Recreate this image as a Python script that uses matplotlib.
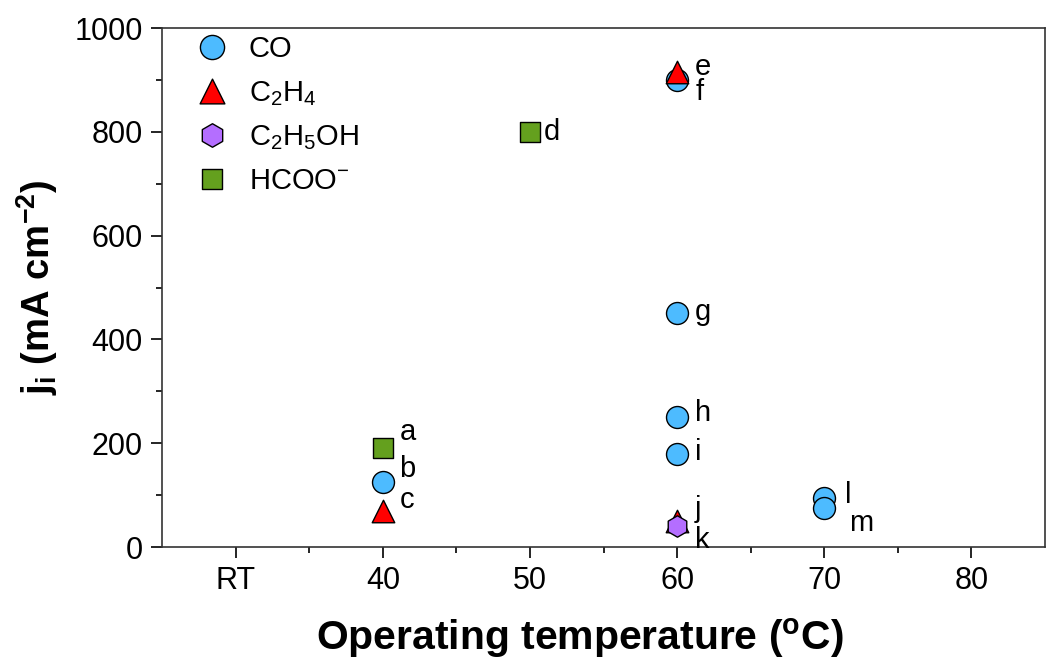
import matplotlib
matplotlib.use("Agg")
import matplotlib.pyplot as plt

plt.rcParams['font.family'] = ['Liberation Sans', 'DejaVu Sans']
plt.rcParams['mathtext.fontset'] = 'custom'
plt.rcParams['mathtext.rm'] = 'Liberation Sans'
plt.rcParams['mathtext.it'] = 'Liberation Sans'
plt.rcParams['mathtext.bf'] = 'Liberation Sans:bold'
plt.rcParams['mathtext.default'] = 'regular'

# ---- data ----
co_x = [40, 60, 60, 60, 60, 70, 70]
co_y = [126, 900, 450, 250, 180, 95, 75]
co_lab = ['b', 'f', 'g', 'h', 'i', 'l', 'm']

c2h4_x = [40, 60, 60]
c2h4_y = [70, 915, 50]
c2h4_lab = ['c', 'e', 'j']

c2h5oh_x = [60]
c2h5oh_y = [40]
c2h5oh_lab = ['k']

hcoo_x = [40, 50]
hcoo_y = [190, 800]
hcoo_lab = ['a', 'd']

x_ticks = [30, 40, 50, 60, 70, 80]
x_ticklabels = ['RT', '40', '50', '60', '70', '80']
y_ticks = [0, 200, 400, 600, 800, 1000]

# label offsets (points) for the letter annotations
label_offsets = {
    'a': (12, 12), 'b': (12, 9), 'c': (12, 8), 'd': (10, 0),
    'e': (13, 4), 'f': (13, -9), 'g': (13, 1), 'h': (13, 3),
    'i': (13, 1), 'j': (13, 9), 'k': (13, -10), 'l': (15, 2), 'm': (18, -11),
}

fig = plt.figure(figsize=(10.46, 6.62), dpi=100)
ax = fig.add_axes([0.155, 0.1737, 0.844, 0.784])

ms = 250
ax.scatter(co_x, co_y, s=ms, marker='o', c='#4DBBFF', edgecolors='black', linewidths=1, zorder=3, label='CO')
ax.scatter(c2h4_x, c2h4_y, s=ms*1.05, marker='^', c='#FF0000', edgecolors='black', linewidths=1, zorder=4, label=r'C$_2$H$_4$')
ax.scatter(c2h5oh_x, c2h5oh_y, s=ms*0.95, marker='h', c='#B46EFF', edgecolors='black', linewidths=1, zorder=5, label=r'C$_2$H$_5$OH')
ax.scatter(hcoo_x, hcoo_y, s=ms*0.75, marker='s', c='#64A01E', edgecolors='black', linewidths=1, zorder=6, label=r'HCOO$^{-}$')

for xs, ys, labs in [(co_x, co_y, co_lab), (c2h4_x, c2h4_y, c2h4_lab),
                     (c2h5oh_x, c2h5oh_y, c2h5oh_lab), (hcoo_x, hcoo_y, hcoo_lab)]:
    for x, y, l in zip(xs, ys, labs):
        ax.annotate(l, (x, y), xytext=label_offsets[l], textcoords='offset points',
                    fontsize=21, va='center', ha='left')

ax.set_xlim(25, 85)
ax.set_ylim(0, 1000)
ax.set_xticks(x_ticks)
ax.set_xticklabels(x_ticklabels)
ax.set_xticks([35, 45, 55, 65, 75], minor=True)
ax.set_yticks(y_ticks)
ax.set_yticks([100, 300, 500, 700, 900], minor=True)
ax.tick_params(axis='both', which='major', direction='out', length=8, width=1.2, labelsize=22, pad=6)
ax.tick_params(axis='both', which='minor', direction='out', length=4, width=1.2)
for s in ax.spines.values():
    s.set_linewidth(1.2)
    s.set_color('#333333')

ax.set_xlabel(r'Operating temperature ($\mathbf{^o}$C)', fontsize=29.4, fontweight='bold')
ax.xaxis.set_label_coords(0.473, -0.133)
ax.set_ylabel(r'$\mathbf{j_i}$ (mA cm$\mathbf{^{-2}}$)', fontsize=27.5, fontweight='bold', labelpad=10)

leg = ax.legend(loc='upper left', bbox_to_anchor=(0.022, 1.0), frameon=False, fontsize=21,
                handletextpad=0.45, labelspacing=0.53, borderaxespad=0.0, borderpad=0.25,
                handlelength=1.6, scatteryoffsets=[0.5], markerscale=1.1)

fig.savefig('out.png', dpi=100)
